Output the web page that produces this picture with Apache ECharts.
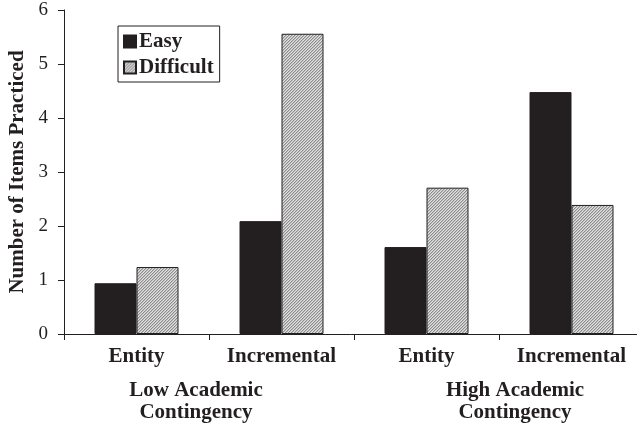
<!DOCTYPE html>
<html>
<head>
<meta charset="utf-8">
<script src="https://cdn.jsdelivr.net/npm/echarts@6/dist/echarts.min.js"></script>
<style>
  html, body { margin: 0; padding: 0; background: #fff; }
  #chart { width: 637px; height: 435px; }
</style>
</head>
<body>
<div id="chart"></div>
<script>
// Mindset (Entity / Incremental) within each academic-contingency group
const categories = ['Entity', 'Incremental', 'Entity', 'Incremental'];
const groupLabels = ['Low Academic\nContingency', 'High Academic\nContingency'];
const easyValues = [0.94, 2.09, 1.61, 4.48];
const difficultValues = [1.24, 5.56, 2.71, 2.39];
const yTicks = [0, 1, 2, 3, 4, 5, 6];

const FONT = '"Liberation Serif", "Times New Roman", serif';
const INK = '#231f20';

// Fine diagonal hatch fill for the "Difficult" bars, drawn pixel by pixel
function hatch() {
  const n = 3;
  const c = document.createElement('canvas');
  c.width = n; c.height = n;
  const g = c.getContext('2d');
  const img = g.createImageData(n, n);
  for (let y = 0; y < n; y++) {
    for (let x = 0; x < n; x++) {
      const k = (x + y) % n;
      const v = k === n - 1 ? 140 : (k === 0 ? 190 : 225);
      const i = (y * n + x) * 4;
      img.data[i] = v; img.data[i + 1] = v; img.data[i + 2] = v; img.data[i + 3] = 255;
    }
  }
  g.putImageData(img, 0, 0);
  return c;
}
const hatchFill = { image: hatch(), repeat: 'repeat' };

const chart = echarts.init(document.getElementById('chart'), null, { renderer: 'canvas' });
chart.setOption({
  animation: false,
  backgroundColor: '#fff',
  grid: { left: 64, top: 10, bottom: 101, right: -7, containLabel: false, outerBoundsMode: 'none' },
  legend: {
    orient: 'vertical',
    left: 118, top: 26,
    padding: [5, 6, 4, 5],
    itemGap: 5,
    itemWidth: 12, itemHeight: 12,
    borderColor: INK, borderWidth: 1,
    icon: 'rect',
    textStyle: { fontFamily: FONT, fontWeight: 'bold', fontSize: 21, color: INK, padding: [0, 0, 0, -2] },
    data: ['Easy', 'Difficult']
  },
  xAxis: {
    type: 'category',
    data: categories,
    boundaryGap: true,
    axisLine: { lineStyle: { color: INK, width: 1 } },
    axisTick: { show: true, length: 6, interval: 0, alignWithLabel: false, lineStyle: { color: INK } },
    axisLabel: { interval: 0, hideOverlap: false, fontFamily: FONT, fontWeight: 'bold', fontSize: 21, color: INK, margin: 12 }
  },
  yAxis: {
    type: 'value',
    min: 0, max: 6, interval: 1,
    name: 'Number of Items Practiced',
    nameLocation: 'middle',
    nameGap: 36,
    nameTextStyle: { fontFamily: FONT, fontWeight: 'bold', fontSize: 21, color: INK },
    splitLine: { show: false },
    axisLine: { show: true, lineStyle: { color: INK, width: 1 } },
    axisTick: { show: true, length: 6, lineStyle: { color: INK } },
    axisLabel: {
      fontFamily: FONT, fontSize: 19, color: INK, margin: 16,
      formatter: v => yTicks.includes(v) ? String(v) : ''
    }
  },
  series: [
    {
      name: 'Easy', type: 'bar', data: easyValues,
      barWidth: 42, barGap: '0%',
      itemStyle: { color: INK, borderColor: INK, borderWidth: 1 }
    },
    {
      name: 'Difficult', type: 'bar', data: difficultValues,
      barWidth: 42, barGap: '0%',
      itemStyle: { color: hatchFill, borderColor: INK, borderWidth: 1 }
    }
  ],
  graphic: [
    {
      type: 'text', x: 196, y: 380,
      style: { text: groupLabels[0], font: 'bold 21px ' + FONT, fill: INK, align: 'center', verticalAlign: 'top', lineHeight: 22 }
    },
    {
      type: 'text', x: 515, y: 380,
      style: { text: groupLabels[1], font: 'bold 21px ' + FONT, fill: INK, align: 'center', verticalAlign: 'top', lineHeight: 22 }
    }
  ]
});
</script>
</body>
</html>
